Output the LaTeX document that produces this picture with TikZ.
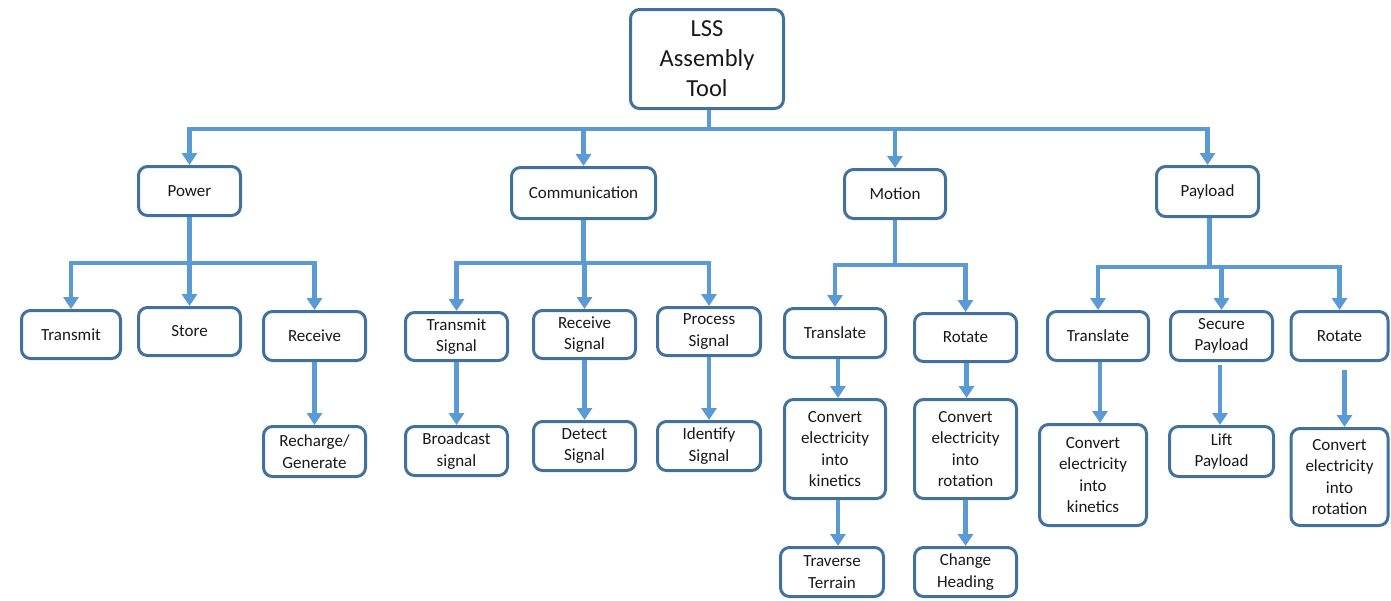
\documentclass[tikz,border=0pt]{standalone}
\usepackage{fontspec}
\setmainfont{Carlito}
\usetikzlibrary{arrows.meta}
\definecolor{boxline}{HTML}{41719C}
\definecolor{linkblue}{HTML}{5B9BD5}
\tikzset{
  box/.style={draw=boxline, line width=3pt, rounded corners=9pt, fill=white,
    align=center, inner sep=0pt, text=black!90,
    font=\fontsize{17}{21.5}\selectfont},
  rootbox/.style={box, font=\fontsize{24.5}{30}\selectfont},
  wire/.style={draw=linkblue, line width=4.5pt},
  tip/.style={wire, -{Triangle[width=15pt,length=12pt]}},
}
\newcommand{\bx}[6][box]{%
  \node[#1, minimum width=#4pt, minimum height=#5pt] (#2) at (#3) {#6};}
\begin{document}
\begin{tikzpicture}[x=1pt,y=-1pt]
\useasboundingbox (0,0) rectangle (1391,600);

% top level
\bx[rootbox]{root}{707,59}{153}{99}{LSS\\Assembly\\Tool}

% first level
\bx{power}{189.5,191}{102}{49}{Power}
\bx{comm}{583.5,193}{144}{51}{Communication}
\bx{motion}{895,194}{101}{49}{Motion}
\bx{payload}{1207.5,191.5}{102}{50}{Payload}

% power branch
\bx{ptx}{71,334.5}{99}{48}{Transmit}
\bx{pstore}{189.5,331.5}{102}{48}{Store}
\bx{prcv}{314.5,336}{102}{49}{Receive}
\bx{pgen}{314.5,451.5}{102}{50}{Recharge/\\Generate}

% communication branch
\bx{ctx}{456.5,336.5}{102}{48}{Transmit\\Signal}
\bx{crx}{584.5,334.5}{102}{48}{Receive\\Signal}
\bx{cproc}{709,331.5}{103}{48}{Process\\Signal}
\bx{cbcast}{456.5,451}{102}{49}{Broadcast\\signal}
\bx{cdetect}{584.5,446}{102}{49}{Detect\\Signal}
\bx{cident}{709,446}{103}{49}{Identify\\Signal}

% motion branch
\bx{mtr}{835,333}{101}{49}{Translate}
\bx{mrot}{965.5,337.5}{102}{48}{Rotate}
\bx{mkin}{835,449}{101}{99}{Convert\\electricity\\into\\kinetics}
\bx{mrotc}{965.5,449}{102}{99}{Convert\\electricity\\into\\rotation}
\bx{mterr}{832,572}{103}{49}{Traverse\\Terrain}
\bx{mhead}{965.5,572}{102}{49}{Change\\Heading}

% payload branch
\bx{ytr}{1098,336}{101}{49}{Translate}
\bx{ysec}{1221.5,336}{102}{49}{Secure\\Payload}
\bx{yrot}{1339.5,336}{97}{49}{Rotate}
\bx{ykin}{1093,475}{107}{101}{Convert\\electricity\\into\\kinetics}
\bx{ylift}{1221.5,451.5}{104}{50}{Lift\\Payload}
\bx{yrotc}{1339.5,477}{97}{97}{Convert\\electricity\\into\\rotation}

% bus levels
\coordinate (bus0) at (0,129);
\coordinate (busP) at (0,263);
\coordinate (busC) at (0,263);
\coordinate (busM) at (0,265);
\coordinate (busY) at (0,267);

% root to first level
\foreach \n in {power,comm,motion,payload}
  \draw[tip] ([xshift=2pt]root.south) |- (bus0 -| \n.north) -- (\n.north);

% power
\foreach \n in {ptx,pstore,prcv}
  \draw[tip] (power.south) |- (busP -| \n.north) -- (\n.north);
\draw[tip] (prcv) -- (pgen);

% communication
\foreach \n in {ctx,crx,cproc}
  \draw[tip] (comm.south) |- (busC -| \n.north) -- (\n.north);
\draw[tip] (ctx) -- (cbcast);
\draw[tip] (crx) -- (cdetect);
\draw[tip] (cproc) -- (cident);

% motion
\foreach \n in {mtr,mrot}
  \draw[tip] (motion.south) |- (busM -| \n.north) -- (\n.north);
\draw[tip] ([xshift=3pt]mtr.south) -- ([xshift=3pt]mkin.north);
\draw[tip] ([xshift=3pt]mkin.south) -- ([xshift=3pt]mkin.south |- mterr.north);
\draw[tip] ([xshift=1pt]mrot.south) -- ([xshift=1pt]mrotc.north);
\draw[tip] (mrotc) -- (mhead);

% payload
\foreach \n in {ytr,ysec,yrot}
  \draw[tip] ([xshift=2pt]payload.south) |- (busY -| \n.north) -- (\n.north);
\draw[tip] ([xshift=2pt]ytr.south) -- ([xshift=2pt]ytr.south |- ykin.north);
\draw[tip, shorten <=3pt] ([xshift=-1.5pt]ysec.south) -- ([xshift=-1.5pt]ylift.north);
\draw[tip, shorten <=8pt] ([xshift=5pt]yrot.south) -- ([xshift=5pt]yrotc.north);
\end{tikzpicture}
\end{document}
